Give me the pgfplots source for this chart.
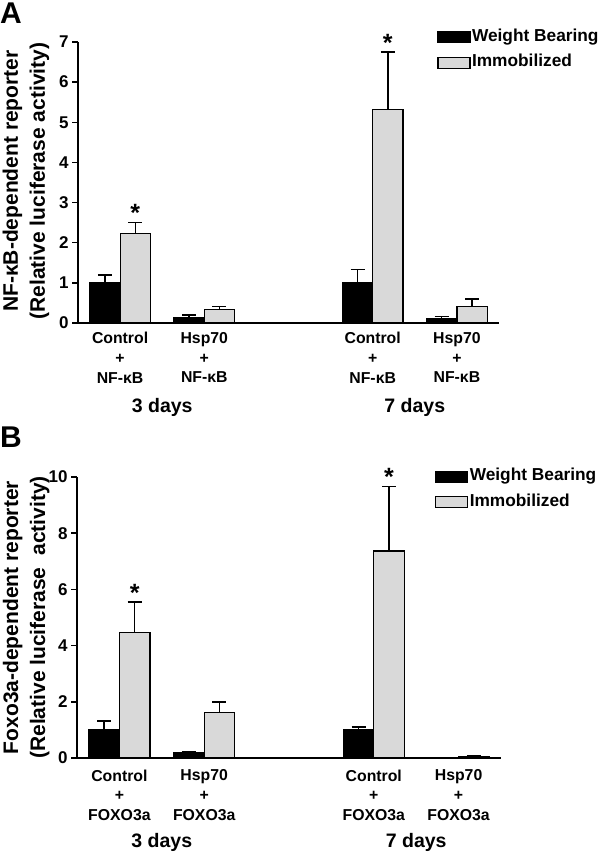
\documentclass[border=0pt]{standalone}
\usepackage{fontspec}
\setmainfont{Liberation Sans}
\usepackage{pgfplots}
\pgfplotsset{compat=1.18}

\definecolor{immob}{gray}{0.85}

\newcommand{\lblfont}{\fontsize{15.8}{19.8}\selectfont\bfseries}
\newcommand{\starfont}{\fontsize{25}{25}\selectfont\bfseries}

\pgfplotsset{
  panel/.style={
    scale only axis, height=281pt,
    xmin=0.5, xmax=5.5, ymin=0,
    axis x line=bottom, axis y line=left,
    axis line style={-, line width=1.6pt},
    ybar=0pt, bar width=0.36,
    xtick={1,2,4,5},
    xtick style={draw=none},
    ytick align=outside, major tick length=6pt,
    ytick style={line width=1.5pt, black},
    /pgf/number format/assume math mode=true,
    yticklabel style={font=\fontsize{17}{17}\selectfont\bfseries},
    xticklabel style={font=\lblfont, align=center, inner sep=0pt, yshift=-3pt},
    ylabel style={font=\fontsize{21}{27}\selectfont\bfseries, align=center, anchor=center},
    legend style={draw=none, fill=none, inner sep=0pt, anchor=north west,
      font=\fontsize{17.3}{17.3}\selectfont\bfseries, row sep=7pt,
      nodes={inner sep=1.5pt, text height=12pt, text depth=3.5pt}},
    legend cell align=left,
    legend image code/.code={\draw[#1, line width=1.2pt] (0pt,-5.5pt) rectangle (32pt,5.5pt);},
    clip=false,
  },
  errs/.style={line width=1.2pt,
    error bars/y dir=plus, error bars/y explicit, error bars/error mark=-,
    error bars/error bar style={line width=1.5pt, black},
    error bars/error mark options={rotate=90, line width=1.5pt, black, mark size=7pt}},
  wb/.style={errs, draw=black, fill=black},
  im/.style={errs, draw=black, fill=immob},
}

\begin{document}
\begin{tikzpicture}
\useasboundingbox (0,0) rectangle (601pt,-853pt);

\node[anchor=base west, inner sep=0pt, font=\fontsize{30}{30}\selectfont\bfseries] at (0pt,-24pt) {A};
\node[anchor=base west, inner sep=0pt, font=\fontsize{30}{30}\selectfont\bfseries] at (0pt,-447pt) {B};

% Panel A: NF-kB reporter
\begin{axis}[panel, at={(78pt,-323pt)}, anchor=south west, width=421pt,
  ymax=7, ytick={0,1,...,7},
  xticklabels={{Control\\+\\NF-κB},{Hsp70\\+\\NF-κB},{Control\\+\\NF-κB},{Hsp70\\+\\NF-κB}},
  ylabel={NF-κB-dependent reporter\\(Relative luciferase activity)},
  ylabel style={at={(axis description cs:-0.1235,0.505)}},
  legend style={at={(0.853,1.051)}},
]
\addplot[wb] coordinates {(1,1.00) +- (0,0.19) (2,0.14) +- (0,0.06) (4,1.00) +- (0,0.33) (5,0.10) +- (0,0.06)};
\addlegendentry{Weight Bearing}
\addplot[im] coordinates {(1,2.22) +- (0,0.28) (2,0.34) +- (0,0.07) (4,5.32) +- (0,1.43) (5,0.41) +- (0,0.19)};
\addlegendentry{Immobilized}
\node[font=\starfont, anchor=north, inner sep=0pt] at (axis cs:1.18,2.95) {*};
\node[font=\starfont, anchor=north, inner sep=0pt] at (axis cs:4.18,7.19) {*};
\node[font=\fontsize{19.5}{19.5}\selectfont\bfseries, anchor=base] at ([yshift=-89pt]axis cs:1.5,0) {3 days};
\node[font=\fontsize{19.5}{19.5}\selectfont\bfseries, anchor=base] at ([yshift=-89pt]axis cs:4.5,0) {7 days};
\end{axis}

% Panel B: FOXO3a reporter
\begin{axis}[panel, at={(77pt,-758pt)}, anchor=south west, width=424pt,
  ymax=10, ytick={0,2,...,10},
  xticklabel style={yshift=-2.5pt},
  xticklabels={{Control\\+\\FOXO3a},{Hsp70\\+\\FOXO3a},{Control\\+\\FOXO3a},{Hsp70\\+\\FOXO3a}},
  ylabel={Foxo3a-dependent reporter\\(Relative luciferase\ \ activity)},
  ylabel style={at={(axis description cs:-0.12,0.5)}},
  legend style={at={(0.844,1.035)}},
]
\addplot[wb] coordinates {(1,1.00) +- (0,0.32) (2,0.19) +- (0,0.04) (4,1.00) +- (0,0.11) (5,0.01) +- (0,0.0)};
\addlegendentry{Weight Bearing}
\addplot[im] coordinates {(1,4.48) +- (0,1.07) (2,1.63) +- (0,0.36) (4,7.37) +- (0,2.29) (5,0.04) +- (0,0.03)};
\addlegendentry{Immobilized}
\node[font=\starfont, anchor=north, inner sep=0pt] at (axis cs:1.18,6.18) {*};
\node[font=\starfont, anchor=north, inner sep=0pt] at (axis cs:4.18,10.32) {*};
\node[font=\fontsize{19.5}{19.5}\selectfont\bfseries, anchor=base] at ([yshift=-89pt]axis cs:1.5,0) {3 days};
\node[font=\fontsize{19.5}{19.5}\selectfont\bfseries, anchor=base] at ([yshift=-89pt]axis cs:4.5,0) {7 days};
\end{axis}
\end{tikzpicture}
\end{document}
